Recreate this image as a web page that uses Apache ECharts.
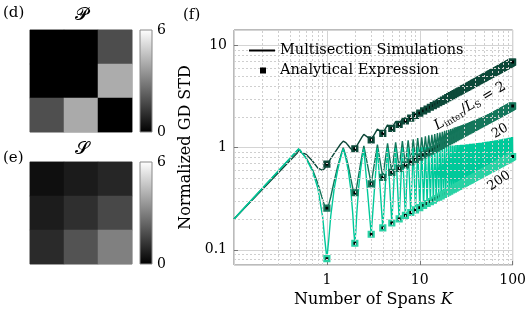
<!DOCTYPE html>
<html><head><meta charset="utf-8">
<script src="https://cdn.jsdelivr.net/npm/echarts@6/dist/echarts.min.js"></script>
<style>html,body{margin:0;padding:0;background:#fff}#c{width:529px;height:318px}</style>
</head><body><div id="c"></div>
<script>
// ---------- Data ----------
const cats = ['1', '2', '3'];
const matP = [[0, 0, 1.8], [0, 0, 4.05], [1.85, 4.0, 0]];
const matS = [[0.35, 0.64, 0.9], [0.66, 1.1, 1.7], [0.98, 1.95, 3.0]];
const cbarTicks = [0, 6];

const xTicks = [0.1, 1, 10, 100];
const xMinor = [0.2,0.3,0.4,0.5,0.6,0.7,0.8,0.9,2,3,4,5,6,7,8,9,20,30,40,50,60,70,80,90];
const yMinor = [0.08,0.09,0.2,0.3,0.4,0.5,0.6,0.7,0.8,0.9,2,3,4,5,6,7,8,9];

// K = 1..100 : analytical (markers) / troughs of the simulated curves
const spans = Array.from({length: 100}, (_, i) => i + 1);
const anaR2 = [0.69,0.976,1.195,1.38,1.543,1.69,1.826,1.951,2.07,2.182,2.289,2.39,2.488,2.582,2.672,2.76,2.845,2.928,3.008,3.086,3.162,3.236,3.309,3.38,3.45,3.518,3.585,3.651,3.716,3.779,3.842,3.903,3.964,4.023,4.082,4.14,4.197,4.253,4.309,4.364,4.418,4.472,4.524,4.577,4.629,4.68,4.731,4.78,4.83,4.879,4.927,4.976,5.023,5.07,5.117,5.163,5.21,5.255,5.3,5.345,5.389,5.433,5.477,5.52,5.563,5.606,5.648,5.69,5.732,5.773,5.814,5.855,5.895,5.935,5.975,6.015,6.055,6.094,6.133,6.171,6.21,6.248,6.286,6.324,6.362,6.399,6.436,6.473,6.509,6.546,6.582,6.618,6.654,6.69,6.725,6.761,6.796,6.83,6.866,6.9];
const anaR20 = [0.256,0.362,0.443,0.512,0.572,0.627,0.677,0.724,0.768,0.809,0.849,0.887,0.923,0.958,0.991,1.024,1.055,1.086,1.116,1.145,1.173,1.201,1.228,1.254,1.28,1.305,1.33,1.355,1.379,1.402,1.425,1.448,1.471,1.493,1.514,1.536,1.557,1.578,1.599,1.619,1.639,1.659,1.679,1.698,1.717,1.736,1.755,1.774,1.792,1.81,1.828,1.846,1.864,1.881,1.898,1.916,1.933,1.95,1.966,1.983,1.999,2.016,2.032,2.048,2.064,2.08,2.095,2.111,2.127,2.142,2.157,2.172,2.187,2.202,2.217,2.232,2.246,2.261,2.275,2.29,2.304,2.318,2.332,2.346,2.36,2.374,2.388,2.402,2.415,2.429,2.442,2.455,2.469,2.482,2.495,2.508,2.521,2.534,2.547,2.56];
const anaR200 = [0.082,0.116,0.142,0.164,0.183,0.201,0.217,0.232,0.246,0.259,0.272,0.284,0.296,0.307,0.318,0.328,0.338,0.348,0.357,0.367,0.376,0.385,0.393,0.402,0.41,0.418,0.426,0.434,0.442,0.449,0.457,0.464,0.471,0.478,0.485,0.492,0.499,0.505,0.512,0.519,0.525,0.531,0.538,0.544,0.55,0.556,0.562,0.568,0.574,0.58,0.586,0.591,0.597,0.603,0.608,0.614,0.619,0.625,0.63,0.635,0.64,0.646,0.651,0.656,0.661,0.666,0.671,0.676,0.681,0.686,0.691,0.696,0.701,0.705,0.71,0.715,0.72,0.724,0.729,0.733,0.738,0.743,0.747,0.752,0.756,0.76,0.765,0.769,0.774,0.778,0.782,0.787,0.791,0.795,0.799,0.803,0.808,0.812,0.816,0.82];

// K = 0.5 .. 99.5 : peaks of the simulated curves
const peakK = Array.from({length: 100}, (_, i) => i + 0.5);
const peakR2 = [0.93,1.16,1.35,1.52,1.67,1.8,1.93,2.05,2.16,2.27,2.37,2.47,2.57,2.66,2.75,2.83,2.91,2.99,3.07,3.15,3.22,3.3,3.37,3.44,3.51,3.57,3.64,3.7,3.77,3.83,3.89,3.95,4.01,4.07,4.13,4.19,4.24,4.3,4.35,4.41,4.46,4.52,4.57,4.62,4.67,4.72,4.77,4.82,4.87,4.92,4.97,5.02,5.06,5.11,5.16,5.2,5.25,5.29,5.34,5.38,5.43,5.47,5.51,5.56,5.6,5.64,5.68,5.72,5.77,5.81,5.85,5.89,5.93,5.97,6.01,6.05,6.09,6.13,6.17,6.2,6.24,6.28,6.32,6.36,6.39,6.43,6.47,6.5,6.54,6.58,6.61,6.65,6.68,6.72,6.75,6.79,6.83,6.86,6.89,6.93];
const peakR20 = [0.97,1.0,1.04,1.07,1.1,1.13,1.16,1.18,1.21,1.24,1.26,1.29,1.32,1.34,1.36,1.39,1.41,1.43,1.46,1.48,1.5,1.52,1.54,1.57,1.59,1.61,1.63,1.65,1.67,1.69,1.71,1.72,1.74,1.76,1.78,1.8,1.82,1.84,1.85,1.87,1.89,1.91,1.92,1.94,1.96,1.97,1.99,2.01,2.02,2.04,2.05,2.07,2.09,2.1,2.12,2.13,2.15,2.16,2.18,2.19,2.21,2.22,2.24,2.25,2.27,2.28,2.3,2.31,2.32,2.34,2.35,2.37,2.38,2.39,2.41,2.42,2.43,2.45,2.46,2.47,2.49,2.5,2.51,2.53,2.54,2.55,2.56,2.58,2.59,2.6,2.62,2.63,2.64,2.65,2.67,2.68,2.69,2.7,2.71,2.73];
const peakR200 = [0.98,0.98,0.98,0.99,0.99,0.99,1.0,1.0,1.0,1.01,1.01,1.01,1.02,1.02,1.02,1.03,1.03,1.03,1.04,1.04,1.04,1.05,1.05,1.05,1.06,1.06,1.06,1.07,1.07,1.07,1.07,1.08,1.08,1.08,1.09,1.09,1.09,1.1,1.1,1.1,1.11,1.11,1.11,1.12,1.12,1.12,1.12,1.13,1.13,1.13,1.14,1.14,1.14,1.15,1.15,1.15,1.15,1.16,1.16,1.16,1.16,1.17,1.17,1.17,1.18,1.18,1.18,1.18,1.19,1.19,1.19,1.2,1.2,1.2,1.2,1.21,1.21,1.21,1.22,1.22,1.22,1.22,1.23,1.23,1.23,1.23,1.24,1.24,1.24,1.25,1.25,1.25,1.25,1.26,1.26,1.26,1.26,1.27,1.27,1.27];

// Fine-resolution part of the simulated curves (K < 2.5)
const kEarly = [0.1,0.5,0.6,0.7,0.8,0.9,0.95,1,1.05,1.1,1.2,1.3,1.4,1.5,1.6,1.7,1.8,1.9,1.95,2,2.05,2.1,2.2,2.3,2.4];
const earlyR2 = [0.2,0.92,0.86,0.74,0.63,0.6,0.63,0.69,0.73,0.78,0.88,0.98,1.08,1.16,1.12,1.05,0.98,0.94,0.95,0.976,1.0,1.04,1.12,1.2,1.28];
const earlyR20 = [0.2,0.97,0.79,0.61,0.445,0.31,0.267,0.256,0.279,0.329,0.473,0.642,0.821,1.0,0.829,0.663,0.513,0.401,0.37,0.362,0.379,0.417,0.538,0.692,0.86];
const earlyR200 = [0.2,0.98,0.78,0.59,0.4,0.21,0.126,0.082,0.129,0.213,0.4,0.59,0.786,0.98,0.787,0.595,0.405,0.225,0.15,0.116,0.153,0.228,0.408,0.598,0.79];

// ---------- Build ----------
function simLine(early, peaks, troughs) {
  const d = kEarly.map((k, i) => [k, early[i]]);
  for (let n = 2; n < 100; n++) {
    d.push([peakK[n], peaks[n]]);
    d.push([spans[n], troughs[n]]);
  }
  return d;
}
function heat(m) {
  const d = [];
  m.forEach((row, r) => row.forEach((v, c) => d.push([c, r, v])));
  return d;
}
const ser = (arr) => spans.map((k, i) => [k, arr[i]]);

const FONT = 'DejaVu Serif';
const colDark = '#0b4637', colMid = '#127459', colTeal = '#00c99a';
const gradient = {type: 'linear', x: 0, y: 0, x2: 0, y2: 1,
  colorStops: [{offset: 0, color: '#ffffff'}, {offset: 1, color: '#000000'}]};

const chart = echarts.init(document.getElementById('c'), null, {renderer: 'canvas'});
const hx = (gi) => ({type: 'category', gridIndex: gi, data: cats, show: false});
const hy = (gi) => ({type: 'category', gridIndex: gi, data: cats, inverse: true, show: false});
const cbx = (gi) => ({type: 'value', gridIndex: gi, show: false, min: 0, max: 1});
const cby = (gi) => ({type: 'value', gridIndex: gi, min: cbarTicks[0], max: cbarTicks[1], interval: 6, position: 'right',
  axisLine: {show: false}, axisTick: {show: false}, splitLine: {show: false},
  axisLabel: {margin: 5, fontFamily: FONT, fontSize: 14, color: '#000'}});
const legIconStyle = {color: '#000', borderColor: '#000', borderWidth: 0, opacity: 1, shadowBlur: 0, decal: 'none'};

const option = {
  animation: false,
  backgroundColor: '#fff',
  grid: [
    {left: 30, top: 30, width: 102, height: 102, show: true, borderColor: '#888', borderWidth: 1},
    {left: 140, top: 30, width: 12, height: 102, show: true, borderColor: '#888', borderWidth: 1, backgroundColor: gradient},
    {left: 30, top: 162, width: 102, height: 102, show: true, borderColor: '#888', borderWidth: 1},
    {left: 140, top: 162, width: 12, height: 102, show: true, borderColor: '#888', borderWidth: 1, backgroundColor: gradient},
    {left: 234, top: 30, right: 14, bottom: 53, show: true, borderColor: '#777', borderWidth: 1}
  ],
  xAxis: [hx(0), cbx(1), hx(2), cbx(3), {
    type: 'log', logBase: 10, gridIndex: 4, min: xTicks[0], max: xTicks[3],
    name: '{a|Number of Spans }{b|K}', nameLocation: 'middle', nameGap: 24,
    nameTextStyle: {rich: {a: {fontFamily: FONT, fontSize: 16, color: '#000'}, b: {fontFamily: FONT, fontSize: 16, fontStyle: 'italic', color: '#000'}}},
    axisLine: {show: false}, axisTick: {inside: true, length: 4, lineStyle: {color: '#777'}},
    axisLabel: {showMinLabel: false, margin: 8, fontFamily: FONT, fontSize: 14, color: '#000',
      formatter: v => String(+(+v).toPrecision(3))},
    splitLine: {show: true, lineStyle: {color: '#d4d4d4', width: 1}}
  }],
  yAxis: [hy(0), cby(1), hy(2), cby(3), {
    type: 'log', logBase: 10, gridIndex: 4, min: 0.071, max: 14.2,
    name: 'Normalized GD STD', nameLocation: 'middle', nameGap: 38, nameRotate: 90,
    nameTextStyle: {fontFamily: FONT, fontSize: 16, color: '#000'},
    axisLine: {show: false}, axisTick: {inside: true, length: 4, lineStyle: {color: '#777'}},
    axisLabel: {showMinLabel: false, showMaxLabel: false, margin: 7, fontFamily: FONT, fontSize: 14, color: '#000',
      formatter: v => String(+(+v).toPrecision(3))},
    splitLine: {show: true, lineStyle: {color: '#d4d4d4', width: 1}}
  }],
  visualMap: [{show: false, type: 'continuous', min: 0, max: 6, dimension: 2, seriesIndex: [0, 1],
    inRange: {color: ['#000000', '#ffffff']}}],
  legend: [
    {data: [{name: 'Multisection Simulations', icon: 'path://M0,0H26V2H0Z', itemStyle: legIconStyle}], left: 244, top: 38, z: 20,
      itemWidth: 26, itemHeight: 2, selectedMode: false, itemStyle: legIconStyle,
      textStyle: {fontFamily: FONT, fontSize: 14.5, color: '#000'}},
    {data: [{name: 'Analytical Expression', icon: 'path://M0,0H6V6H0Z', itemStyle: legIconStyle}], left: 255, top: 58, z: 20,
      itemWidth: 6, itemHeight: 6, selectedMode: false, itemStyle: legIconStyle,
      textStyle: {fontFamily: FONT, fontSize: 14.5, color: '#000', padding: [0, 0, 0, 9]}}
  ],
  series: [
    {type: 'heatmap', xAxisIndex: 0, yAxisIndex: 0, data: heat(matP), itemStyle: {borderWidth: 0}},
    {type: 'heatmap', xAxisIndex: 2, yAxisIndex: 2, data: heat(matS), itemStyle: {borderWidth: 0}},
    {type: 'line', name: 'minor-grid', xAxisIndex: 4, yAxisIndex: 4, data: [], z: 1, silent: true,
      markLine: {silent: true, symbol: 'none', animation: false, label: {show: false},
        lineStyle: {color: '#cfcfcf', type: [2, 2], width: 1},
        data: xMinor.map(v => ({xAxis: v})).concat(yMinor.map(v => ({yAxis: v})))}},
    {type: 'bar', name: 'Multisection Simulations', xAxisIndex: 4, yAxisIndex: 4, data: [], itemStyle: {color: '#000'}},
    {type: 'bar', name: 'Analytical Expression', xAxisIndex: 4, yAxisIndex: 4, data: [], itemStyle: {color: '#000'}},
    {type: 'line', name: 'sim2', xAxisIndex: 4, yAxisIndex: 4, data: simLine(earlyR2, peakR2, anaR2), showSymbol: false, symbol: 'none',
      lineStyle: {color: colDark, width: 1.4}, z: 3},
    {type: 'line', name: 'sim20', xAxisIndex: 4, yAxisIndex: 4, data: simLine(earlyR20, peakR20, anaR20), showSymbol: false, symbol: 'none',
      lineStyle: {color: colMid, width: 1.4}, z: 3},
    {type: 'line', name: 'sim200', xAxisIndex: 4, yAxisIndex: 4, data: simLine(earlyR200, peakR200, anaR200), showSymbol: false, symbol: 'none',
      lineStyle: {color: colTeal, width: 1.4}, z: 3},
    {type: 'scatter', name: 'ana2', xAxisIndex: 4, yAxisIndex: 4, data: ser(anaR2), symbol: 'rect', symbolSize: 5,
      itemStyle: {color: '#000', borderColor: '#0d4a3a', borderWidth: 2.2, opacity: 1}, z: 4},
    {type: 'scatter', name: 'ana20', xAxisIndex: 4, yAxisIndex: 4, data: ser(anaR20), symbol: 'rect', symbolSize: 5,
      itemStyle: {color: '#000', borderColor: '#16775c', borderWidth: 2.2, opacity: 1}, z: 4},
    {type: 'scatter', name: 'ana200', xAxisIndex: 4, yAxisIndex: 4, data: ser(anaR200), symbol: 'rect', symbolSize: 5,
      itemStyle: {color: '#000', borderColor: '#2ad2a5', borderWidth: 2.2, opacity: 1}, z: 4}
  ],
  graphic: [
    {type: 'text', x: 3, y: 13, style: {text: '(d)', fontFamily: FONT, fontSize: 15, fill: '#000', verticalAlign: 'middle'}},
    {type: 'text', x: 3, y: 158, style: {text: '(e)', fontFamily: FONT, fontSize: 15, fill: '#000', verticalAlign: 'middle'}},
    {type: 'text', x: 183, y: 15, style: {text: '(f)', fontFamily: FONT, fontSize: 15, fill: '#000', verticalAlign: 'middle'}},
    {type: 'text', x: 81, y: 15, style: {text: '𝓟', fontFamily: FONT, fontSize: 18, fill: '#000', align: 'center', verticalAlign: 'middle'}},
    {type: 'text', x: 82, y: 149, style: {text: '𝓢', fontFamily: FONT, fontSize: 18, fill: '#000', align: 'center', verticalAlign: 'middle'}},
    {type: 'text', x: 470, y: 106, rotation: 0.54, z: 10, style: {
      text: '{i|L}{s|inter}{n|/}{i|L}{s|S}{n| = 2}', align: 'center', verticalAlign: 'middle',
      rich: {i: {fontFamily: FONT, fontSize: 14, fontStyle: 'italic', fill: '#000', color: '#000'},
        s: {fontFamily: FONT, fontSize: 9, fill: '#000', color: '#000', padding: [7, 0, 0, 0]},
        n: {fontFamily: FONT, fontSize: 14, fill: '#000', color: '#000'}}}},
    {type: 'text', x: 500, y: 131, rotation: 0.54, z: 10, style: {text: '20', fontFamily: FONT, fontSize: 13, fill: '#000', align: 'center', verticalAlign: 'middle'}},
    {type: 'text', x: 499, y: 181, rotation: 0.6, z: 10, style: {text: '200', fontFamily: FONT, fontSize: 13, fill: '#000', align: 'center', verticalAlign: 'middle'}}
  ]
};
chart.setOption(option);
</script></body></html>
